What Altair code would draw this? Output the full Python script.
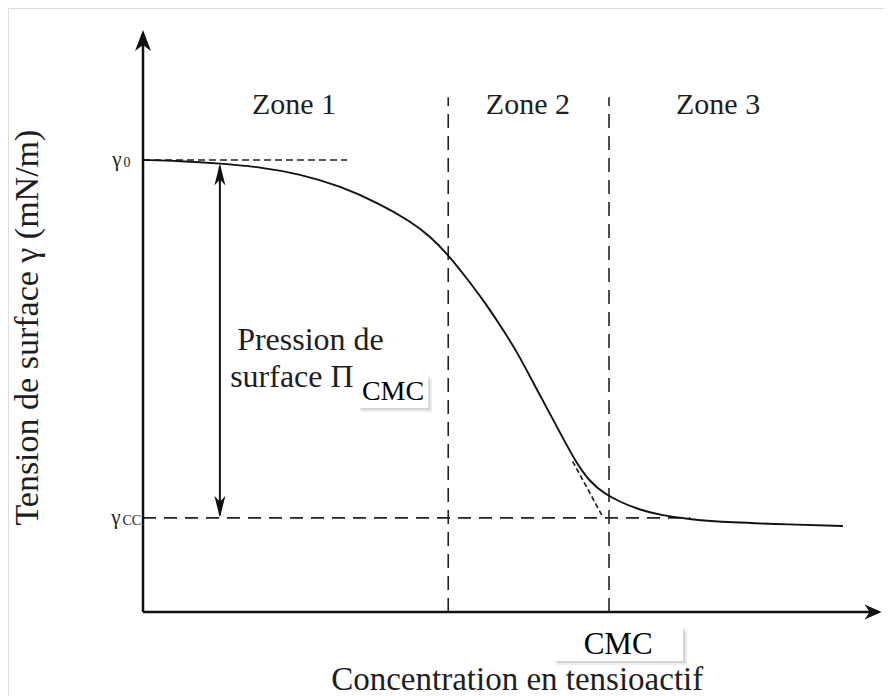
import altair as alt
import pandas as pd

# ---- data ----
conc = [0, 0.79, 1.65, 2.51, 3.37, 4.23, 5.09, 5.73, 6.16, 6.55, 6.91, 7.30, 7.66,
        8.03, 8.41, 8.84, 9.27, 9.59, 9.91, 10.24, 10.67, 11.09, 11.74, 12.60, 13.88, 15.02]
tension = [72.0, 71.84, 71.44, 70.88, 69.77, 67.86, 64.99, 62.28, 59.89, 56.87, 53.52, 49.70, 45.72,
           41.42, 36.00, 30.11, 24.05, 20.71, 18.80, 17.52, 16.25, 15.45, 14.73, 14.26, 13.94, 13.70]

gamma0 = 72.0
gamma_cc = 15.0
cmc = 10.0
zone_boundary = 6.55
gamma0_dash_end = 4.38
gammacc_dash_end = 11.74
zone_top = 82.0
tangent_c = [9.22, 9.87]
tangent_t = [24.0, 15.1]
pressure_c = 1.65

zone_labels = ["Zone 1", "Zone 2", "Zone 3"]
zone_c = [3.24, 8.26, 12.34]
zone_t = [80.8, 80.8, 80.8]

x_axis_end = 15.85
y_axis_end = 92.7

XDOM = [-2.897, 15.901]
YDOM = [-13.38, 96.21]
xs = alt.Scale(domain=XDOM, nice=False, zero=False)
ys = alt.Scale(domain=YDOM, nice=False, zero=False)

SERIF = "Liberation Serif"
INK = "#111111"
TXT = "#1e1e1e"


def X(f="c"):
    return alt.X(f, type="quantitative", scale=xs, axis=None)


def Y(f="t"):
    return alt.Y(f, type="quantitative", scale=ys, axis=None)


# axes
axes_df = pd.DataFrame({"c": [0, 0], "c2": [0, x_axis_end - 0.1], "t": [0, 0], "t2": [y_axis_end - 0.5, 0]})
axes = alt.Chart(axes_df).mark_rule(color=INK, strokeWidth=2.5).encode(
    x=X("c"), x2="c2", y=Y("t"), y2="t2"
)

UP = "M0,0L0.8,2.1L0,1.5L-0.8,2.1Z"
DOWN = "M0,0L0.55,-2.2L0,-1.6L-0.55,-2.2Z"
UP2 = "M0,0L0.55,2.2L0,1.6L-0.55,2.2Z"
RIGHT = "M0,0L-1.7,-0.75L-1.2,0L-1.7,0.75Z"

heads_df = pd.DataFrame({
    "c": [0, x_axis_end, pressure_c, pressure_c],
    "t": [y_axis_end, 0, 71.45, gamma_cc],
    "shape": [UP, RIGHT, UP2, DOWN],
})
heads = alt.Chart(heads_df).mark_point(filled=True, color=INK, opacity=1, size=400, strokeWidth=0).encode(
    x=X(), y=Y(), shape=alt.Shape("shape:N", scale=None)
)

# zone dashed verticals
vert_df = pd.DataFrame({"c": [zone_boundary, cmc], "t": [0, 0], "t2": [zone_top, zone_top]})
verts = alt.Chart(vert_df).mark_rule(color="#222", strokeWidth=1.6, strokeDash=[14, 8]).encode(
    x=X(), y=Y(), y2="t2"
)

g0_df = pd.DataFrame({"c": [0], "c2": [gamma0_dash_end], "t": [gamma0]})
g0 = alt.Chart(g0_df).mark_rule(color="#222", strokeWidth=1.6, strokeDash=[7, 4]).encode(
    x=X(), x2="c2", y=Y()
)
gcc_df = pd.DataFrame({"c": [0], "c2": [gammacc_dash_end], "t": [gamma_cc]})
gcc = alt.Chart(gcc_df).mark_rule(color="#222", strokeWidth=1.6, strokeDash=[13, 8]).encode(
    x=X(), x2="c2", y=Y()
)

tan_df = pd.DataFrame({"c": tangent_c, "t": tangent_t})
tan = alt.Chart(tan_df).mark_line(color="#222", strokeWidth=1.7, strokeDash=[5, 3]).encode(x=X(), y=Y())

curve_df = pd.DataFrame({"c": conc, "t": tension})
curve = alt.Chart(curve_df).mark_line(color=INK, strokeWidth=1.9, interpolate="basis").encode(
    x=X(), y=Y()
)

press_df = pd.DataFrame({"c": [pressure_c], "t": [71.0], "t2": [gamma_cc + 0.5]})
press = alt.Chart(press_df).mark_rule(color=INK, strokeWidth=2).encode(x=X(), y=Y(), y2="t2")

# texts
zones = alt.Chart(pd.DataFrame({"label": zone_labels, "c": zone_c, "t": zone_t})).mark_text(
    font=SERIF, fontSize=30, color=TXT, baseline="middle", align="center"
).encode(x=X(), y=Y(), text="label:N")

press_txt = alt.Chart(pd.DataFrame({
    "label": ["Pression de", "surface  Π"], "c": [2.02, 1.87], "t": [41.73, 35.84]
})).mark_text(font=SERIF, fontSize=32, color=TXT, baseline="alphabetic", align="left").encode(
    x=X(), y=Y(), text="label:N"
)

gam = alt.Chart(pd.DataFrame({"label": ["γ", "γ"], "c": [-0.66, -0.68], "t": [gamma0, gamma_cc]})).mark_text(
    font=SERIF, fontSize=21, color=TXT, baseline="middle", align="left"
).encode(x=X(), y=Y(), text="label:N")
gsub = alt.Chart(pd.DataFrame({"label": ["0", "CC"], "c": [-0.42, -0.44], "t": [gamma0 - 0.5, gamma_cc - 0.5]})).mark_text(
    font=SERIF, fontSize=14, color=TXT, baseline="middle", align="left"
).encode(x=X(), y=Y(), text="label:N")

# CMC boxes
box_df = pd.DataFrame({
    "c": [4.61, 8.80], "c2": [6.12, 11.59], "t": [37.75, -2.4], "t2": [32.5, -7.8],
    "label": ["CMC", "CMC"], "cm": [5.365, 10.195], "tm": [35.0, -5.25], "fs": [28, 31],
})
shadow2 = alt.Chart(box_df).mark_rect(color="#9a9a9a", opacity=0.18, xOffset=4, x2Offset=4, yOffset=4, y2Offset=4).encode(
    x=X("c"), x2="c2", y=Y("t"), y2="t2"
)
shadow = alt.Chart(box_df).mark_rect(color="#9a9a9a", opacity=0.3, xOffset=2, x2Offset=2, yOffset=2, y2Offset=2).encode(
    x=X("c"), x2="c2", y=Y("t"), y2="t2"
)
box = alt.Chart(box_df).mark_rect(color="white").encode(x=X("c"), x2="c2", y=Y("t"), y2="t2")
box_txt = alt.Chart(box_df).mark_text(font=SERIF, color="black", baseline="middle", align="center").encode(
    x=X("cm"), y=Y("tm"), text="label:N", size=alt.Size("fs:Q", scale=None)
)

xtitle = alt.Chart(pd.DataFrame({"label": ["Concentration en tensioactif"], "c": [8.03], "t": [-12.42]})).mark_text(
    font=SERIF, fontSize=33, color=TXT, baseline="alphabetic", align="center"
).encode(x=X(), y=Y(), text="label:N")
ytitle = alt.Chart(pd.DataFrame({"label": ["Tension de surface γ (mN/m)"], "c": [-2.468], "t": [45.3]})).mark_text(
    font=SERIF, fontSize=34, color=TXT, baseline="middle", align="center", angle=270
).encode(x=X(), y=Y(), text="label:N")

chart = alt.layer(
    verts, g0, gcc, tan, curve, press, axes, heads, zones, press_txt, gam, gsub,
    shadow2, shadow, box, box_txt, xtitle, ytitle
).properties(
    width=876, height=688, padding=0, autosize=alt.AutoSizeParams(type="none")
).configure_view(strokeWidth=0, stroke="transparent", clip=False).configure(background="white")

chart.save("out.html", embed_options={"renderer": "svg", "actions": False})
